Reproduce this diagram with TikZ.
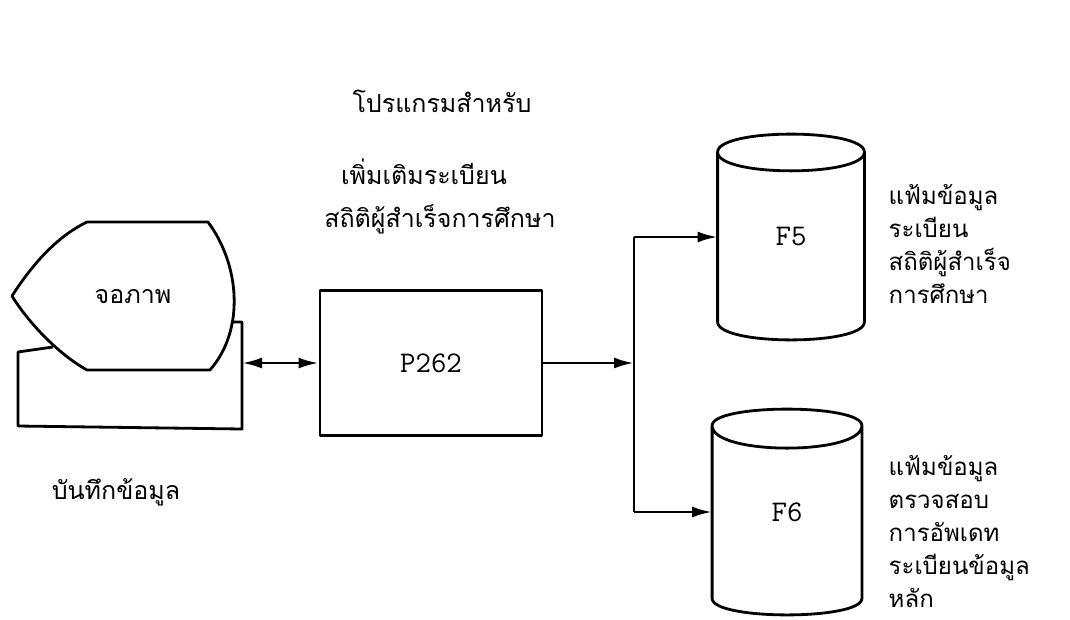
\documentclass[tikz,border=0pt]{standalone}
\usepackage{fontspec}
\newfontfamily\thaifont[Script=Thai]{Loma}
\usetikzlibrary{arrows.meta}
\begin{document}
\begin{tikzpicture}[x=1pt,y=-1pt,line width=2.8pt,line join=round,
    >={Latex[length=20pt,width=11pt]}]

      \useasboundingbox (0,0) rectangle (1070,619);

      % texts
      \begin{scope}[every node/.style={font=\thaifont\fontsize{25}{33}\selectfont}]
        \node (screen) at (133,297) {จอภาพ};
        \node (record) at (116,492) {บันทึกข้อมูล};
        \node (title1) at (442,101) {โปรแกรมสำหรับ};
        \node (title2) at (424,172) {เพิ่มเติมระเบียน};
        \node (title3) at (440,219) {สถิติผู้สำเร็จการศึกษา};
      \end{scope}
      \begin{scope}[every node/.style={font=\thaifont\fontsize{24}{33}\selectfont,
          align=left,anchor=west}]
        \node (note5) at (884,244) {แฟ้มข้อมูล\\ระเบียน\\สถิติผู้สำเร็จ\\การศึกษา};
        \node (note6) at (884,532) {แฟ้มข้อมูล\\ตรวจสอบ\\การอัพเดท\\ระเบียนข้อมูล\\หลัก};
      \end{scope}

      % boxes
      \begin{scope}[every node/.style={font=\ttfamily\fontsize{30}{32}\selectfont}]
        \node[draw,minimum width=222pt,minimum height=145pt] (prog) at (431,363) {P262};
        \node[minimum width=144pt,minimum height=167pt] (f5) at (791,237) {F5};
        \node[minimum width=147pt,minimum height=170pt] (f6) at (787,512) {F6};
      \end{scope}
      \coordinate (kbd)   at (242,363);
      \coordinate (split) at (634,363);

      % display and keyboard
      \draw (87,222) -- (208,222) .. controls (240,265) and (245,330) .. (210,370)
        -- (87,370) .. controls (60,355) and (30,325) .. (12,296)
        .. controls (35,260) and (60,235) .. cycle;
      \draw (53,347) -- (18,352) -- (18,426) -- (242,429) -- (242,322) -- (233,322);

      % files
      \draw (f5.north west) .. controls +(0,-24) and +(0,-24) .. (f5.north east)
        .. controls +(0,25) and +(0,25) .. (f5.north west)
        -- (f5.south west) .. controls +(0,24) and +(0,24) .. (f5.south east)
        -- (f5.north east);
      \draw (f6.north west) .. controls +(0,-22) and +(0,-22) .. (f6.north east)
        .. controls +(0,30) and +(0,30) .. (f6.north west)
        -- (f6.south west) .. controls +(0,22) and +(0,22) .. (f6.south east)
        -- (f6.north east);

      % connectors
      \draw[<->] (kbd) -- (prog.west);
      \draw[->] (prog.east) -- (split);
      \draw (split |- f5.west) -- (split |- f6.west);
      \draw[->] (split |- f5.west) -- (f5.west);
      \draw[->] (split |- f6.west) -- (f6.west);

    \end{tikzpicture}
\end{document}
